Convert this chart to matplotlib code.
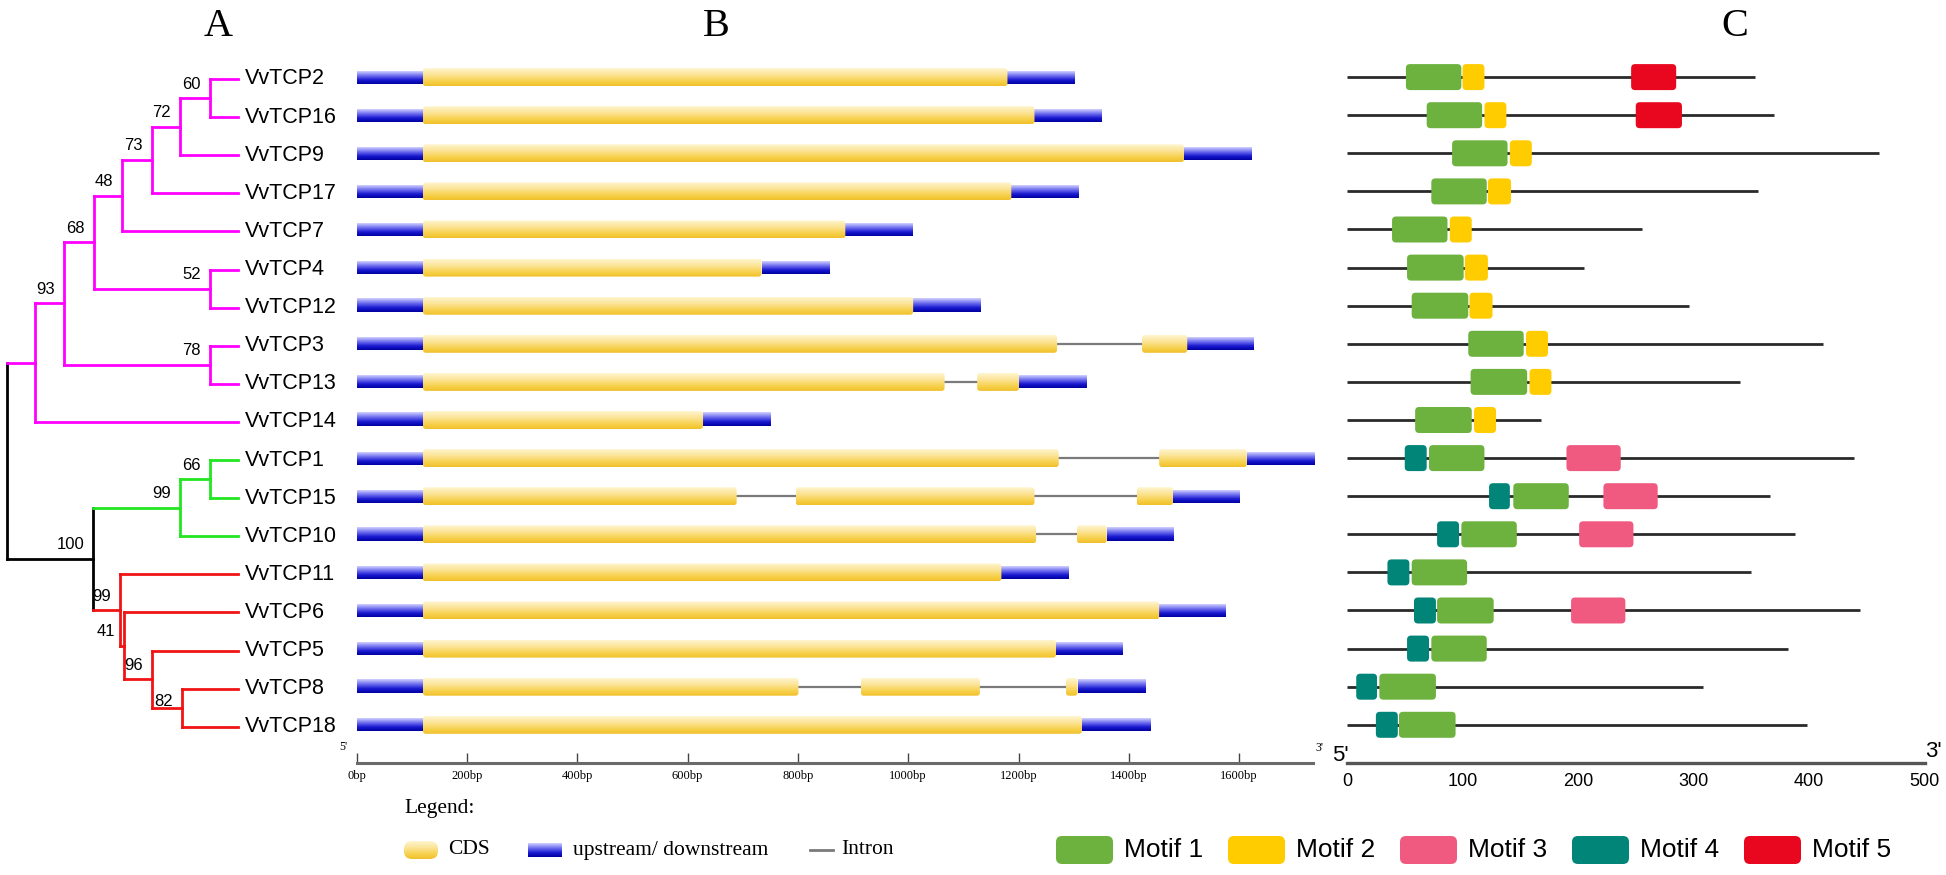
import numpy as np
import matplotlib
matplotlib.use("Agg")
import matplotlib.pyplot as plt
from matplotlib.patches import FancyBboxPatch
from matplotlib.colors import to_rgb

# ---------------- data ----------------
gene_names = ["VvTCP2", "VvTCP16", "VvTCP9", "VvTCP17", "VvTCP7", "VvTCP4",
              "VvTCP12", "VvTCP3", "VvTCP13", "VvTCP14", "VvTCP1", "VvTCP15",
              "VvTCP10", "VvTCP11", "VvTCP6", "VvTCP5", "VvTCP8", "VvTCP18"]

# phylogenetic tree (internal nodes)
tree_node_names = ["n60", "n72", "n73", "n48", "n52", "n68", "n78", "n93", "nP",
                   "n66", "n99g", "n82", "n96", "n41", "n99r", "n100", "root"]
tree_depths = [210, 180, 152, 122, 210, 94, 210, 64, 35,
               210, 180, 182, 152, 124, 120, 93, 7]
tree_children = [["VvTCP2", "VvTCP16"], ["n60", "VvTCP9"], ["n72", "VvTCP17"],
                 ["n73", "VvTCP7"], ["VvTCP4", "VvTCP12"], ["n48", "n52"],
                 ["VvTCP3", "VvTCP13"], ["n68", "n78"], ["n93", "VvTCP14"],
                 ["VvTCP1", "VvTCP15"], ["n66", "VvTCP10"], ["VvTCP8", "VvTCP18"],
                 ["VvTCP5", "n82"], ["VvTCP6", "n96"], ["VvTCP11", "n41"],
                 ["n99g", "n99r"], ["nP", "n100"]]
tree_bootstrap = [60, 72, 73, 48, 52, 68, 78, 93, None,
                  66, 99, 82, 96, 41, 99, 100, None]
tree_clade = ["I"] * 9 + ["II"] * 2 + ["III"] * 4 + ["root"] * 2
leaf_depth = 238

# gene structures (bp): CDS exons and total length (upstream before first exon)
cds_exons = [
    [(120, 1180)],
    [(120, 1229)],
    [(120, 1500)],
    [(120, 1187)],
    [(120, 886)],
    [(120, 734)],
    [(120, 1009)],
    [(120, 1270), (1424, 1506)],
    [(120, 1066), (1125, 1201)],
    [(120, 628)],
    [(120, 1273), (1455, 1614)],
    [(120, 689), (796, 1229), (1414, 1480)],
    [(120, 1232), (1306, 1360)],
    [(120, 1169)],
    [(120, 1455)],
    [(120, 1268)],
    [(120, 801), (914, 1130), (1286, 1307)],
    [(120, 1315)],
]
gene_len = [1303, 1351, 1622, 1309, 1008, 856, 1131, 1627, 1323, 750,
            1736, 1601, 1480, 1291, 1575, 1388, 1429, 1439]
bp_ticks = [0, 200, 400, 600, 800, 1000, 1200, 1400, 1600]
bp_tick_labels = [f"{t}bp" for t in bp_ticks]
bp_axis_end = 1734

# conserved motifs (aa): protein length and (motif index, start, end)
protein_len = [353, 370, 461, 356, 255, 205, 296, 412, 340, 168,
               439, 366, 388, 350, 444, 382, 308, 398]
motif_hits = [
    [(1, 51, 99), (2, 100, 119), (5, 246, 285)],
    [(1, 69, 117), (2, 119, 138), (5, 250, 290)],
    [(1, 91, 139), (2, 141, 160)],
    [(1, 73, 121), (2, 122, 142)],
    [(1, 39, 87), (2, 89, 108)],
    [(1, 52, 101), (2, 102, 122)],
    [(1, 56, 105), (2, 106, 126)],
    [(1, 105, 153), (2, 155, 174)],
    [(1, 107, 156), (2, 158, 177)],
    [(1, 59, 108), (2, 110, 129)],
    [(4, 50, 69), (1, 71, 119), (3, 190, 237)],
    [(4, 123, 141), (1, 144, 192), (3, 222, 269)],
    [(4, 78, 97), (1, 99, 147), (3, 201, 248)],
    [(4, 35, 54), (1, 56, 104)],
    [(4, 58, 77), (1, 78, 127), (3, 194, 241)],
    [(4, 52, 71), (1, 73, 121)],
    [(4, 8, 26), (1, 28, 77)],
    [(4, 25, 44), (1, 45, 94)],
]
motif_names = ["Motif 1", "Motif 2", "Motif 3", "Motif 4", "Motif 5"]
motif_colors = ["#6DB13E", "#FFCC00", "#F05A80", "#008578", "#E8071E"]
aa_ticks = [0, 100, 200, 300, 400, 500]

# ---------------- styling / layout ----------------
W, H, DPI = 1946, 875, 100
ROW0, ROWH = 79.0, 38.1
YT, YB = -1.5, 18.8
AXIS_ROW = 17.95
PANEL_SHIFT = -0.05
SANS = ["Liberation Sans", "DejaVu Sans"]
SERIF = ["Liberation Serif", "DejaVu Serif"]
clade_col = {"I": "#FF00FF", "II": "#22E622", "III": "#F01414", "root": "#000000"}
CDS_STOPS = [(0, "#FFF5D0"), (0.35, "#FCE59A"), (0.75, "#F7D048"), (1, "#F0C02C")]
BLUE_STOPS = [(0, "#D0D0FF"), (0.35, "#7070F0"), (0.7, "#1818D0"), (1, "#0000A0")]

fig = plt.figure(figsize=(W / DPI, H / DPI), dpi=DPI, facecolor="white")


def row_px(r):
    return ROW0 + ROWH * r


def add_axes_px(x0, x1, xlim):
    yt, yb = row_px(YT), row_px(YB)
    ax = fig.add_axes([x0 / W, 1 - yb / H, (x1 - x0) / W, (yb - yt) / H])
    ax.set_xlim(*xlim)
    ax.set_ylim(YB, YT)
    ax.set_facecolor("none")
    return ax


def grad_array(stops, n=48):
    t = np.linspace(0, 1, n)
    pos = [p for p, _ in stops]
    cols = np.array([to_rgb(c) for _, c in stops])
    arr = np.stack([np.interp(t, pos, cols[:, k]) for k in range(3)], axis=1)
    return arr[:, None, :]


def grad_box(ax, x0, x1, yc, h, stops, rx=None, ma=None, zorder=3):
    im = ax.imshow(grad_array(stops), extent=(x0, x1, yc + h / 2, yc - h / 2),
                   aspect="auto", interpolation="bilinear", zorder=zorder)
    if rx is not None:
        p = FancyBboxPatch((x0, yc - h / 2), x1 - x0, h,
                           boxstyle=f"round,pad=0,rounding_size={rx}",
                           mutation_aspect=ma, facecolor="none", edgecolor="none",
                           transform=ax.transData)
        ax.add_patch(p)
        im.set_clip_path(p)
    return im


# overlay (pixel coordinates) for titles and legends
ov = fig.add_axes([0, 0, 1, 1])
ov.set_xlim(0, W)
ov.set_ylim(H, 0)
ov.axis("off")
ov.set_facecolor("none")
for lab, xp in zip(["A", "B", "C"], [218, 716, 1735]):
    ov.text(xp, 27, lab, fontsize=29, family=SERIF, ha="center", va="center")

# ---------------- A: tree ----------------
axA = add_axes_px(0, 240, (0, 240))
axA.axis("off")
depth = dict(zip(tree_node_names, tree_depths))
for g in gene_names:
    depth[g] = leaf_depth
children = dict(zip(tree_node_names, tree_children))
color = {n: clade_col[c] for n, c in zip(tree_node_names, tree_clade)}
for n in tree_node_names:
    for c in children[n]:
        if c in gene_names:
            color[c] = color[n]
ypos = {g: i for i, g in enumerate(gene_names)}


def get_y(n):
    if n in ypos:
        return ypos[n]
    ys = [get_y(c) for c in children[n]]
    ypos[n] = (min(ys) + max(ys)) / 2
    return ypos[n]


for n in tree_node_names:
    get_y(n)
LW_T = 2.0
for n, b in zip(tree_node_names, tree_bootstrap):
    ys = [ypos[c] for c in children[n]]
    axA.plot([depth[n], depth[n]], [min(ys), max(ys)], color=color[n], lw=LW_T,
             solid_capstyle="projecting", zorder=2)
    for c in children[n]:
        axA.plot([depth[n], depth[c]], [ypos[c], ypos[c]], color=color[c], lw=LW_T,
                 solid_capstyle="projecting", zorder=2)
    if b is not None:
        dy = 6 if n == "n82" else 14
        axA.annotate(str(b), xy=(depth[n], ypos[n]), xytext=(-9, dy),
                     textcoords="offset pixels", ha="right", va="center",
                     fontsize=12, family=SANS)
for g in gene_names:
    axA.annotate(g, xy=(leaf_depth, ypos[g]), xytext=(7, 0), textcoords="offset pixels",
                 ha="left", va="center", fontsize=15.5, family=SANS,
                 annotation_clip=False)

# ---------------- B: gene structure ----------------
PX_BP, X0_BP = 0.5515, 356.7
bx = (-60, 1780)
axB = add_axes_px(X0_BP + bx[0] * PX_BP, X0_BP + bx[1] * PX_BP, bx)
h_cds, h_utr = 18 / ROWH, 13 / ROWH
rx_b = 3 / PX_BP
ma_b = (3 / ROWH) / rx_b
for i, (ex, L) in enumerate(zip(cds_exons, gene_len)):
    yc = i + PANEL_SHIFT
    grad_box(axB, 0, ex[0][0], yc, h_utr, BLUE_STOPS)
    grad_box(axB, ex[-1][1], L, yc, h_utr, BLUE_STOPS)
    for s, e in ex:
        grad_box(axB, s, e, yc, h_cds, CDS_STOPS, rx=rx_b, ma=ma_b, zorder=4)
    for a, b in zip(ex[:-1], ex[1:]):
        axB.plot([a[1], b[0]], [yc, yc], color="#7a7a7a", lw=1.6, zorder=2)
axB.set_xlim(*bx)
axB.set_ylim(YB, YT)
for sp in ["left", "right", "top"]:
    axB.spines[sp].set_visible(False)
axB.spines["bottom"].set_position(("data", AXIS_ROW))
axB.spines["bottom"].set_bounds(0, bp_axis_end)
axB.spines["bottom"].set_color("#6a6a6a")
axB.spines["bottom"].set_linewidth(2.2)
axB.set_yticks([])
axB.set_xticks(bp_ticks)
axB.set_xticklabels(bp_tick_labels, family=SERIF, fontsize=9)
axB.tick_params(axis="x", direction="in", length=7, width=1, color="#444444", pad=5)
axB.text(-25, AXIS_ROW - 0.42, "5'", family=SERIF, fontsize=8.5, ha="center", va="center")
axB.text(bp_axis_end + 12, AXIS_ROW - 0.4, "3'", family=SERIF, fontsize=8.5,
         ha="center", va="center", clip_on=False)

# ---------------- C: motifs ----------------
PX_AA, X0_AA = 1.155, 1347.0
cx = (-15, 515)
axC = add_axes_px(X0_AA + cx[0] * PX_AA, X0_AA + cx[1] * PX_AA, cx)
h_m = 26 / ROWH
rx_c = 3.5
ma_c = (4 / ROWH) / rx_c
for i, (L, hits) in enumerate(zip(protein_len, motif_hits)):
    yc = i + PANEL_SHIFT
    axC.plot([0, L], [yc, yc], color="#2a2a2a", lw=2.0, zorder=2, solid_capstyle="butt")
    for m, s, e in hits:
        axC.add_patch(FancyBboxPatch((s, yc - h_m / 2), e - s, h_m,
                                     boxstyle=f"round,pad=0,rounding_size={rx_c}",
                                     mutation_aspect=ma_c, facecolor=motif_colors[m - 1],
                                     edgecolor="none", zorder=3))
axC.set_xlim(*cx)
axC.set_ylim(YB, YT)
for sp in ["left", "right", "top"]:
    axC.spines[sp].set_visible(False)
axC.spines["bottom"].set_position(("data", AXIS_ROW))
axC.spines["bottom"].set_bounds(0, 500)
axC.spines["bottom"].set_color("#555555")
axC.spines["bottom"].set_linewidth(2.4)
axC.set_yticks([])
axC.set_xticks(aa_ticks)
axC.set_xticklabels([str(t) for t in aa_ticks], family=SANS, fontsize=13)
axC.tick_params(axis="x", length=0, pad=7)
axC.text(-6, AXIS_ROW - 0.2, "5'", family=SANS, fontsize=16, ha="center", va="center")
axC.text(508, AXIS_ROW - 0.3, "3'", family=SANS, fontsize=16, ha="center", va="center",
         clip_on=False)

# ---------------- legends ----------------
ov.text(404, 809, "Legend:", family=SERIF, fontsize=15.5, ha="left", va="center")
LEG_Y = 850
ov.imshow(grad_array(CDS_STOPS), extent=(404, 438, LEG_Y + 9, LEG_Y - 9),
          aspect="auto", interpolation="bilinear", zorder=3)
pill = FancyBboxPatch((404, LEG_Y - 9), 34, 18, boxstyle="round,pad=0,rounding_size=8",
                      facecolor="none", edgecolor="none", transform=ov.transData)
ov.add_patch(pill)
ov.images[-1].set_clip_path(pill)
ov.text(448, LEG_Y, "CDS", family=SERIF, fontsize=15.5, ha="left", va="center")
ov.imshow(grad_array(BLUE_STOPS), extent=(528, 562, LEG_Y + 7, LEG_Y - 7),
          aspect="auto", interpolation="bilinear", zorder=3)
ov.text(573, LEG_Y, "upstream/ downstream", family=SERIF, fontsize=15.5,
        ha="left", va="center")
ov.plot([810, 833], [LEG_Y, LEG_Y], color="#7a7a7a", lw=2.0)
ov.text(841, LEG_Y, "Intron", family=SERIF, fontsize=15.5, ha="left", va="center")

for k, (nm, col) in enumerate(zip(motif_names, motif_colors)):
    x0 = 1056 + 172 * k
    ov.add_patch(FancyBboxPatch((x0, LEG_Y - 14), 57, 28,
                                boxstyle="round,pad=0,rounding_size=6",
                                facecolor=col, edgecolor="none"))
    ov.text(x0 + 68, LEG_Y, nm, family=SANS, fontsize=19, ha="left", va="center")
ov.set_xlim(0, W)
ov.set_ylim(H, 0)

fig.savefig("out.png", dpi=DPI, facecolor="white")
